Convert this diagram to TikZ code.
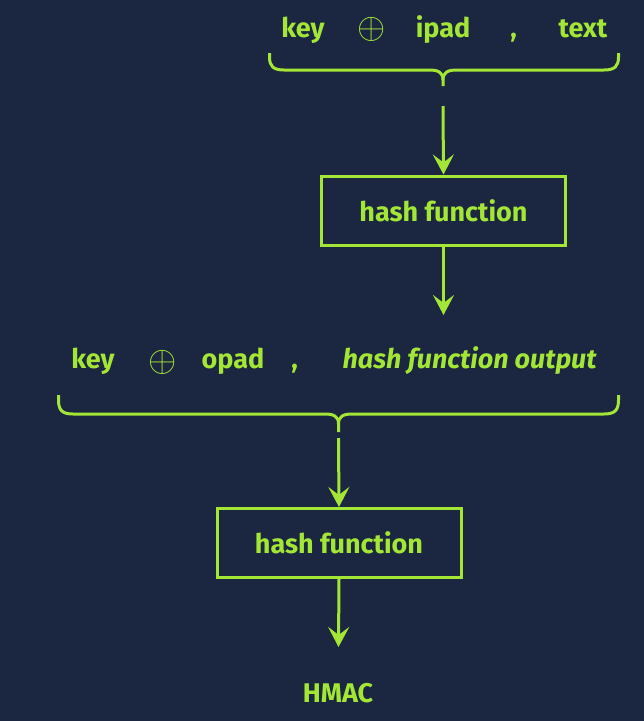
\documentclass[tikz,border=0pt]{standalone}
\usepackage{fontspec}
\usepackage{graphicx}
\setmainfont{Fira Sans}
\usetikzlibrary{arrows.meta}
\definecolor{bg}{HTML}{1B2641}
\definecolor{lime}{HTML}{A3E635}
\tikzset{
  lbl/.style={text=lime, font=\fontsize{27}{27}\selectfont\bfseries, anchor=base, inner sep=0pt},
  ilbl/.style={lbl, font=\fontsize{27}{27}\selectfont\bfseries\itshape},
  xorsym/.style={text=lime, font=\fontsize{17}{17}\selectfont, inner sep=0pt, anchor=center},
  hbox/.style={draw=lime, line width=3pt, minimum width=244pt, minimum height=69pt, inner sep=0pt,
    text=lime, font=\fontsize{27}{27}\selectfont\bfseries},
  conn/.style={draw=lime, line width=3pt, -{Stealth[length=20pt,width=21pt,inset=8pt]}},
  brc/.style={draw=lime, line width=3pt},
}
\begin{document}
\begin{tikzpicture}[x=1pt,y=-1pt]
  \fill[bg] (0,0) rectangle (644,721);
  \useasboundingbox (0,0) rectangle (644,721);
  % top row
  \node[lbl] (k1) at (303,37) {key};
  \node[xorsym] (x1) at (372,29.5) {\scalebox{2.1}{$\oplus$}};
  \node[lbl] (ipad) at (443,37) {ipad};
  \node[lbl] (c1) at (513.5,37) {,};
  \node[lbl] (txt) at (583,37) {text};
  % top brace
  \draw[brc] (269.5,53) -- (269.5,57) .. controls (269.5,66) and (273,70) .. (284,70) -- (429,70)
     .. controls (438,70) and (443,72) .. (443,80) -- (443,86);
  \draw[brc] (618.5,53) -- (618.5,57) .. controls (618.5,66) and (615,70) .. (604,70) -- (457,70)
     .. controls (448,70) and (443,72) .. (443,80);
  \coordinate (a1) at (443,106);
  \node[hbox] (h1) at (443.5,210.5) {hash function};
  \coordinate (a2) at (443.5,315);
  \draw[conn] (a1) -- (h1.north);
  \draw[conn] (h1.south) -- (a2);
  % second row
  \node[lbl] (k2) at (93,368.5) {key};
  \node[xorsym] (x2) at (162.7,362.3) {\scalebox{2.1}{$\oplus$}};
  \node[lbl] (opad) at (233,368.5) {opad};
  \node[lbl] (c2) at (294.5,368.5) {,};
  \node[ilbl] (hfo) at (469.6,368.5) {hash function output};
  % second brace
  \draw[brc] (58.5,395) -- (58.5,400) .. controls (58.5,410) and (62,414) .. (73,414) -- (324.5,414)
     .. controls (333.5,414) and (338.5,416) .. (338.5,424) -- (338.5,432);
  \draw[brc] (618.5,395) -- (618.5,400) .. controls (618.5,410) and (615,414) .. (604,414) -- (352.5,414)
     .. controls (343.5,414) and (338.5,416) .. (338.5,424);
  \coordinate (a3) at (338.5,438);
  \node[hbox] (h2) at (339,543) {hash function};
  \coordinate (a4) at (338.5,647);
  \draw[conn] (a3) -- (h2.north);
  \draw[conn] (h2.south) -- (a4);
  \node[lbl] (hmac) at (338,702) {HMAC};
\end{tikzpicture}
\end{document}
